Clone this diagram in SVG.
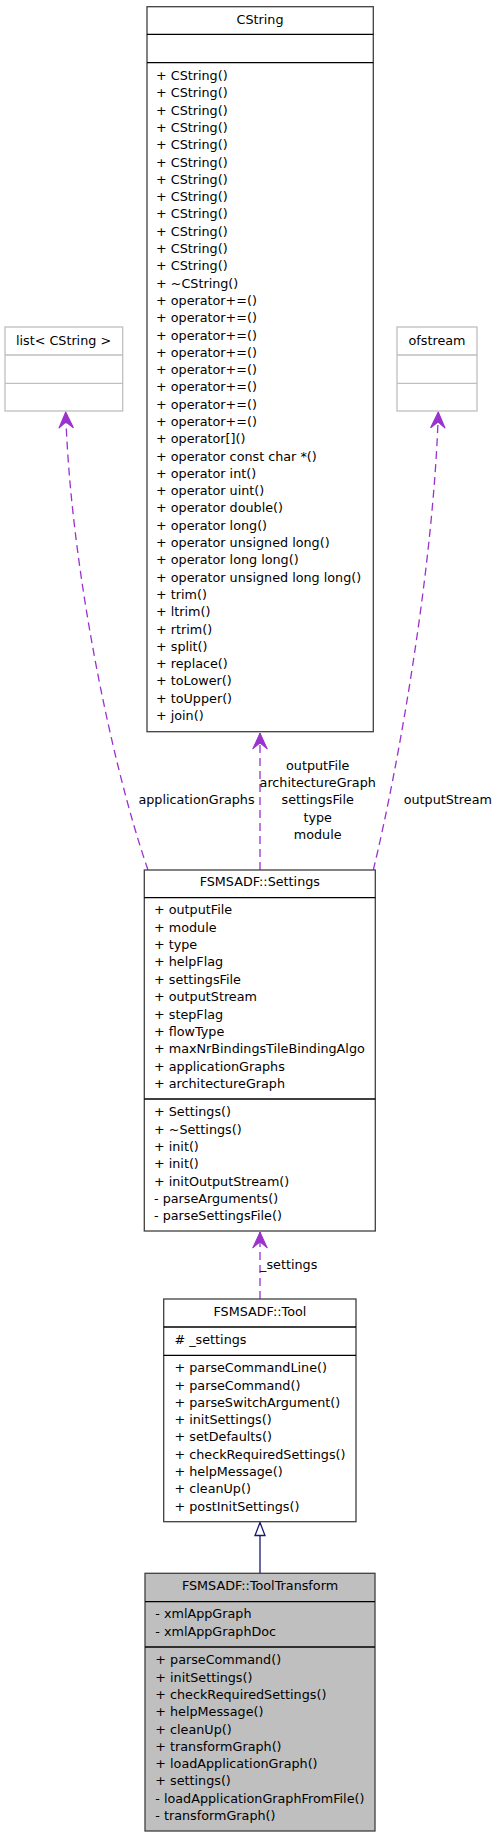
<svg xmlns="http://www.w3.org/2000/svg" width="499" height="1837" viewBox="0 0 499 1837">
<style>
text{font-family:"DejaVu Sans","Liberation Sans",sans-serif;font-size:12.75px;fill:#000}
.c{text-anchor:middle}
.box{fill:#fff;stroke:#404040;stroke-width:1.3}
.gbox{fill:#fff;stroke:#bfbfbf;stroke-width:1.3}
.cur{fill:#bfbfbf;stroke:#404040;stroke-width:1.3}
.div{stroke:#000;stroke-width:1.3}
.gdiv{stroke:#bfbfbf;stroke-width:1.3}
.use{fill:none;stroke:#9a32cd;stroke-width:1.3;stroke-dasharray:8,5}
.inh{fill:none;stroke:#191970;stroke-width:1.3}
</style>
<defs>
<marker id="vee" markerUnits="userSpaceOnUse" markerWidth="20" markerHeight="20" viewBox="-18 -9 20 18" refX="0" refY="0" orient="auto">
<path d="M0,0 L-16,-7.3 L-10,0 L-16,7.3 Z" fill="#9a32cd" stroke="#9a32cd" stroke-width="1"/>
</marker>
<marker id="tri" markerUnits="userSpaceOnUse" markerWidth="18" markerHeight="14" viewBox="-15 -7 17 14" refX="0" refY="0" orient="auto">
<path d="M0,0 L-13,-5 L-13,5 Z" fill="#fff" stroke="#191970" stroke-width="1.3"/>
</marker>
</defs>

<g id="connectors">
<path class="use" d="M148,870 C110,760 70,560 65.7,412" marker-end="url(#vee)"/>
<path class="use" d="M260,870 L260,733" marker-end="url(#vee)"/>
<path class="use" d="M373.3,870 C400,760 434,560 438.3,412" marker-end="url(#vee)"/>
<path class="use" d="M260,1299 L260,1232" marker-end="url(#vee)"/>
<path class="inh" d="M260,1573.3 L260,1522.5" marker-end="url(#tri)"/>
<text class="c" x="196.5" y="804.3">applicationGraphs</text>
<text class="c" x="317.7" y="769.7">outputFile</text>
<text class="c" x="317.7" y="787">architectureGraph</text>
<text class="c" x="317.7" y="804.3">settingsFile</text>
<text class="c" x="317.7" y="821.6">type</text>
<text class="c" x="317.7" y="838.9">module</text>
<text class="c" x="447.8" y="804.3">outputStream</text>
<text class="c" x="288.7" y="1268.5">_settings</text>
</g>

<g id="node-cstring">
<rect class="box" x="147" y="6.7" width="226.3" height="725"/>
<line class="div" x1="147" y1="34.3" x2="373.3" y2="34.3"/>
<line class="div" x1="147" y1="62.7" x2="373.3" y2="62.7"/>
<text class="c" x="260" y="24.2">CString</text>
<text x="156">
<tspan x="156" y="80">+ CString()</tspan>
<tspan x="156" dy="17.3">+ CString()</tspan>
<tspan x="156" dy="17.3">+ CString()</tspan>
<tspan x="156" dy="17.3">+ CString()</tspan>
<tspan x="156" dy="17.3">+ CString()</tspan>
<tspan x="156" dy="17.3">+ CString()</tspan>
<tspan x="156" dy="17.3">+ CString()</tspan>
<tspan x="156" dy="17.3">+ CString()</tspan>
<tspan x="156" dy="17.3">+ CString()</tspan>
<tspan x="156" dy="17.3">+ CString()</tspan>
<tspan x="156" dy="17.3">+ CString()</tspan>
<tspan x="156" dy="17.3">+ CString()</tspan>
<tspan x="156" dy="17.3">+ ~CString()</tspan>
<tspan x="156" dy="17.3">+ operator+=()</tspan>
<tspan x="156" dy="17.3">+ operator+=()</tspan>
<tspan x="156" dy="17.3">+ operator+=()</tspan>
<tspan x="156" dy="17.3">+ operator+=()</tspan>
<tspan x="156" dy="17.3">+ operator+=()</tspan>
<tspan x="156" dy="17.3">+ operator+=()</tspan>
<tspan x="156" dy="17.3">+ operator+=()</tspan>
<tspan x="156" dy="17.3">+ operator+=()</tspan>
<tspan x="156" dy="17.3">+ operator[]()</tspan>
<tspan x="156" dy="17.3">+ operator const char *()</tspan>
<tspan x="156" dy="17.3">+ operator int()</tspan>
<tspan x="156" dy="17.3">+ operator uint()</tspan>
<tspan x="156" dy="17.3">+ operator double()</tspan>
<tspan x="156" dy="17.3">+ operator long()</tspan>
<tspan x="156" dy="17.3">+ operator unsigned long()</tspan>
<tspan x="156" dy="17.3">+ operator long long()</tspan>
<tspan x="156" dy="17.3">+ operator unsigned long long()</tspan>
<tspan x="156" dy="17.3">+ trim()</tspan>
<tspan x="156" dy="17.3">+ ltrim()</tspan>
<tspan x="156" dy="17.3">+ rtrim()</tspan>
<tspan x="156" dy="17.3">+ split()</tspan>
<tspan x="156" dy="17.3">+ replace()</tspan>
<tspan x="156" dy="17.3">+ toLower()</tspan>
<tspan x="156" dy="17.3">+ toUpper()</tspan>
<tspan x="156" dy="17.3">+ join()</tspan>
</text>
</g>

<g id="node-list">
<rect class="gbox" x="5" y="327" width="117.7" height="84"/>
<line class="gdiv" x1="5" y1="355" x2="122.7" y2="355"/>
<line class="gdiv" x1="5" y1="383.3" x2="122.7" y2="383.3"/>
<text class="c" x="63.5" y="344.7">list&lt; CString &gt;</text>
</g>

<g id="node-ofstream">
<rect class="gbox" x="397" y="327" width="80" height="84"/>
<line class="gdiv" x1="397" y1="355" x2="477" y2="355"/>
<line class="gdiv" x1="397" y1="383.3" x2="477" y2="383.3"/>
<text class="c" x="437" y="344.7">ofstream</text>
</g>

<g id="node-settings">
<rect class="box" x="144.3" y="870" width="231" height="361"/>
<line class="div" x1="144.3" y1="897.7" x2="375.3" y2="897.7"/>
<line class="div" x1="144.3" y1="1099" x2="375.3" y2="1099"/>
<text class="c" x="259.8" y="886.3">FSMSADF::Settings</text>
<text>
<tspan x="154" y="914.4">+ outputFile</tspan>
<tspan x="154" dy="17.35">+ module</tspan>
<tspan x="154" dy="17.35">+ type</tspan>
<tspan x="154" dy="17.35">+ helpFlag</tspan>
<tspan x="154" dy="17.35">+ settingsFile</tspan>
<tspan x="154" dy="17.35">+ outputStream</tspan>
<tspan x="154" dy="17.35">+ stepFlag</tspan>
<tspan x="154" dy="17.35">+ flowType</tspan>
<tspan x="154" dy="17.35">+ maxNrBindingsTileBindingAlgo</tspan>
<tspan x="154" dy="17.35">+ applicationGraphs</tspan>
<tspan x="154" dy="17.35">+ architectureGraph</tspan>
</text>
<text>
<tspan x="154" y="1116.3">+ Settings()</tspan>
<tspan x="154" dy="17.3">+ ~Settings()</tspan>
<tspan x="154" dy="17.3">+ init()</tspan>
<tspan x="154" dy="17.3">+ init()</tspan>
<tspan x="154" dy="17.3">+ initOutputStream()</tspan>
<tspan x="154" dy="17.3">- parseArguments()</tspan>
<tspan x="154" dy="17.3">- parseSettingsFile()</tspan>
</text>
</g>

<g id="node-tool">
<rect class="box" x="163.7" y="1299" width="192.3" height="222.7"/>
<line class="div" x1="163.7" y1="1327" x2="356" y2="1327"/>
<line class="div" x1="163.7" y1="1355.3" x2="356" y2="1355.3"/>
<text class="c" x="259.9" y="1316.3">FSMSADF::Tool</text>
<text x="174.5" y="1344.3"># _settings</text>
<text>
<tspan x="174.5" y="1372.2">+ parseCommandLine()</tspan>
<tspan x="174.5" dy="17.3">+ parseCommand()</tspan>
<tspan x="174.5" dy="17.3">+ parseSwitchArgument()</tspan>
<tspan x="174.5" dy="17.3">+ initSettings()</tspan>
<tspan x="174.5" dy="17.3">+ setDefaults()</tspan>
<tspan x="174.5" dy="17.3">+ checkRequiredSettings()</tspan>
<tspan x="174.5" dy="17.3">+ helpMessage()</tspan>
<tspan x="174.5" dy="17.3">+ cleanUp()</tspan>
<tspan x="174.5" dy="17.3">+ postInitSettings()</tspan>
</text>
</g>

<g id="node-tooltransform">
<rect class="cur" x="145" y="1573.3" width="230" height="257.7"/>
<line class="div" x1="145" y1="1601.7" x2="375" y2="1601.7"/>
<line class="div" x1="145" y1="1647" x2="375" y2="1647"/>
<text class="c" x="260" y="1590.3">FSMSADF::ToolTransform</text>
<text>
<tspan x="155.3" y="1618.3">- xmlAppGraph</tspan>
<tspan x="155.3" dy="17.6">- xmlAppGraphDoc</tspan>
</text>
<text>
<tspan x="155.3" y="1664.3">+ parseCommand()</tspan>
<tspan x="155.3" dy="17.3">+ initSettings()</tspan>
<tspan x="155.3" dy="17.3">+ checkRequiredSettings()</tspan>
<tspan x="155.3" dy="17.3">+ helpMessage()</tspan>
<tspan x="155.3" dy="17.3">+ cleanUp()</tspan>
<tspan x="155.3" dy="17.3">+ transformGraph()</tspan>
<tspan x="155.3" dy="17.3">+ loadApplicationGraph()</tspan>
<tspan x="155.3" dy="17.3">+ settings()</tspan>
<tspan x="155.3" dy="17.3">- loadApplicationGraphFromFile()</tspan>
<tspan x="155.3" dy="17.3">- transformGraph()</tspan>
</text>
</g>
</svg>
